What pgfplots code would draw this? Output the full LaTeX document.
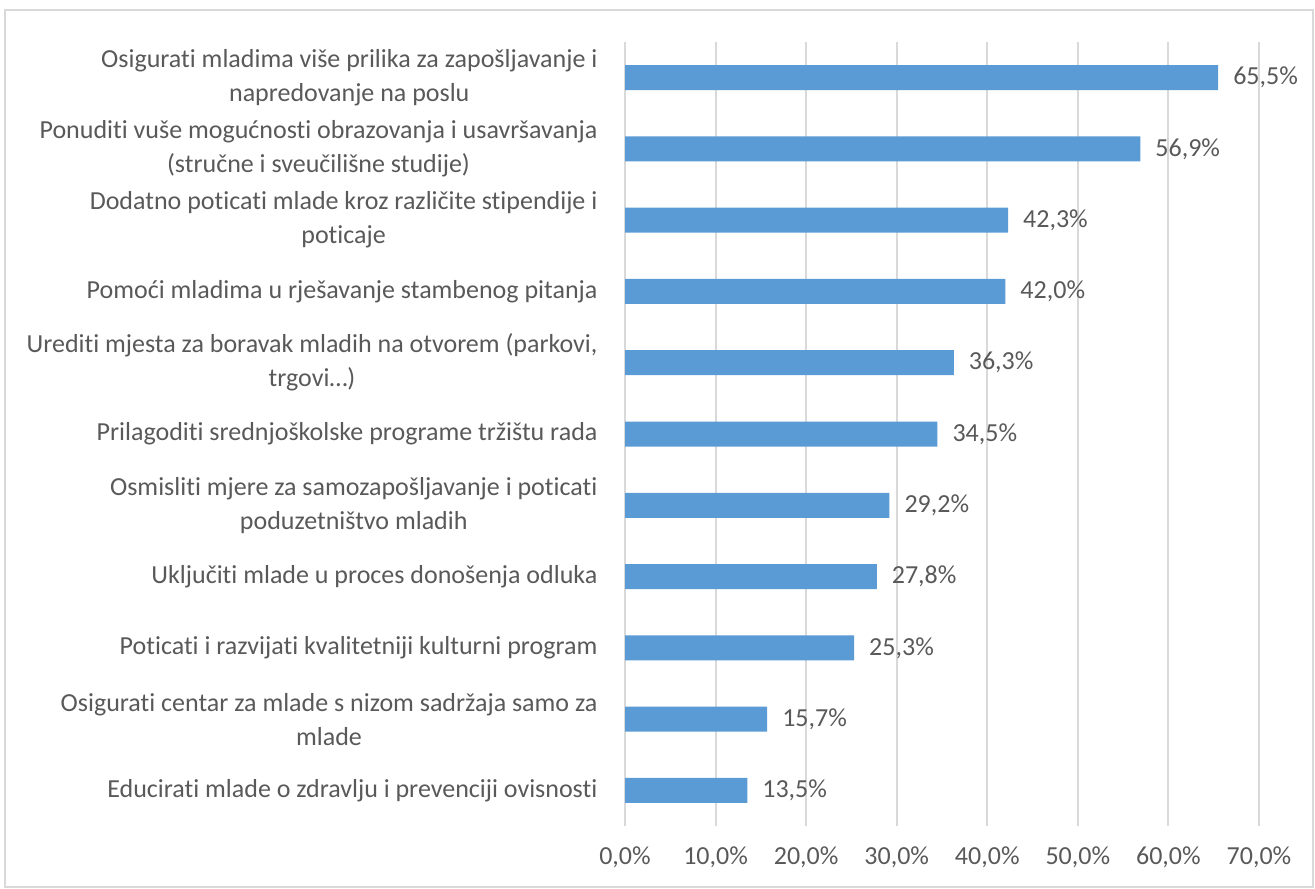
\documentclass[border=0pt]{standalone}
\usepackage{pgfplots}
\pgfplotsset{compat=1.18}
\usepackage{fontspec}
\setmainfont{Carlito}[Ligatures={NoCommon}]
\definecolor{barblue}{HTML}{5B9BD5}
\definecolor{txtgray}{HTML}{595959}
\definecolor{gridgray}{HTML}{D9D9D9}
\begin{document}
\begin{tikzpicture}
\path[use as bounding box] (0,0) rectangle (657.5pt,444pt);
\draw[gridgray, line width=0.9pt] (2.5pt,0.5pt) rectangle (656.5pt,439pt);
\begin{axis}[
  at={(312.5pt,31pt)}, anchor=south west,
  scale only axis, width=317pt, height=392pt,
  xbar, bar width=12.5pt,
  xmin=0, xmax=70, ymin=-0.5, ymax=10.5,
  y dir=reverse,
  xtick={0,10,...,70},
  ytick={0,...,10},
  yticklabels={
    {Osigurati mladima više prilika za zapošljavanje i\\napredovanje na poslu},
    {Ponuditi vuše mogućnosti obrazovanja i usavršavanja\\(stručne i sveučilišne studije)},
    {Dodatno poticati mlade kroz različite stipendije i\\poticaje},
    {Pomoći mladima u rješavanje stambenog pitanja},
    {Urediti mjesta za boravak mladih na otvorem (parkovi,\\trgovi…)},
    {Prilagoditi srednjoškolske programe tržištu rada},
    {Osmisliti mjere za samozapošljavanje i poticati\\poduzetništvo mladih},
    {Uključiti mlade u proces donošenja odluka},
    {Poticati i razvijati kvalitetniji kulturni program},
    {Osigurati centar za mlade s nizom sadržaja samo za\\mlade},
    {Educirati mlade o zdravlju i prevenciji ovisnosti}},
  yticklabel style={align=center, font=\fontsize{13}{17}\selectfont, text=txtgray, xshift=-6pt},
  xticklabel style={font=\fontsize{13}{17}\selectfont, text=txtgray, yshift=-7pt},
  /pgf/number format/assume math mode=true,
  xticklabel={\pgfmathprintnumber[fixed,fixed zerofill,precision=1,use comma]{\tick}\%},
  axis line style={draw=none},
  major tick style={draw=none},
  xmajorgrids, ymajorgrids=false,
  major grid style={gridgray, line width=1pt},
  nodes near coords={\pgfmathprintnumber[fixed,fixed zerofill,precision=1,use comma]{\pgfplotspointmeta}\%},
  nodes near coords style={font=\fontsize{13}{17}\selectfont, text=txtgray, anchor=west, xshift=4pt},
  point meta=explicit,
  clip=false,
]
\addplot[fill=barblue, draw=none] table[x=v, y=i, meta=v] {
i v
0 65.5
1 56.9
2 42.3
3 42.0
4 36.3
5 34.5
6 29.2
7 27.8
8 25.3
9 15.7
10 13.5
};
\end{axis}
\end{tikzpicture}
\end{document}
